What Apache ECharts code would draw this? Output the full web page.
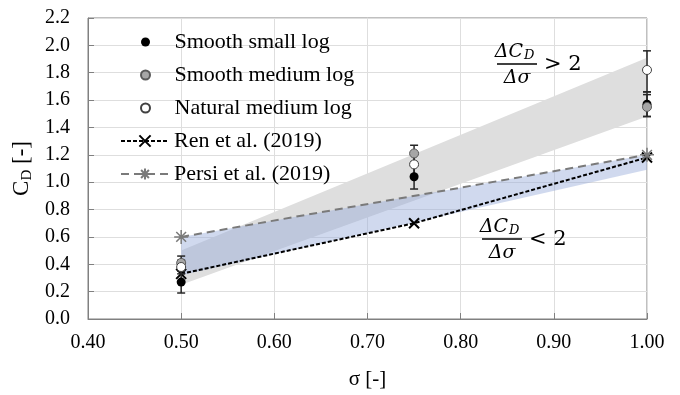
<!DOCTYPE html>
<html>
<head>
<meta charset="utf-8">
<title>CD vs sigma</title>
<script src="https://cdn.jsdelivr.net/npm/echarts@6/dist/echarts.min.js"></script>
</head>
<body style="margin:0">
<div id="main" style="width:680px;height:395px;"></div>
<script>
// measured points (sigma on x, drag coefficient on y)
var sigma = [0.50, 0.75, 1.00];
var smallLog = [0.27, 1.04, 1.57];
var smallLogLow = [0.19, 0.95, 1.48];
var smallLogHigh = [0.35, 1.12, 1.66];
var mediumLog = [0.41, 1.21, 1.55];
var mediumLogLow = [0.36, 1.15, 1.48];
var mediumLogHigh = [0.46, 1.27, 1.64];
var naturalLog = [0.38, 1.13, 1.82];
var naturalLogLow = [0.33, 1.05, 1.66];
var naturalLogHigh = [0.43, 1.21, 1.96];

// literature lines
var renX = [0.50, 0.75, 1.00];
var renY = [0.33, 0.70, 1.18];
var persiX = [0.50, 1.00];
var persiY = [0.60, 1.20];

// shaded bands (slope > 2 grey, slope < 2 blue)
var bandX = [0.50, 1.00];
var greyLow = [0.25, 1.48];
var greyHigh = [0.50, 1.91];
var blueLow = [0.32, 1.09];
var blueHigh = [0.60, 1.20];

var serif = 'Liberation Serif';
var mathFont = '"DejaVu Serif"';

function pts(xs, ys) {
    return xs.map(function (x, i) { return [x, ys[i]]; });
}

function bandSeries(low, high, color, z) {
    return {
        type: 'custom', silent: true, z: z,
        data: [[bandX[0], low[0]]],
        renderItem: function (params, api) {
            var p = [];
            for (var i = 0; i < bandX.length; i++) p.push(api.coord([bandX[i], low[i]]));
            for (var j = bandX.length - 1; j >= 0; j--) p.push(api.coord([bandX[j], high[j]]));
            return { type: 'polygon', shape: { points: p }, style: { fill: color } };
        }
    };
}

function errSeries(low, high) {
    return {
        type: 'custom', silent: true, z: 5,
        data: sigma.map(function (x, i) { return [x, low[i], high[i]]; }),
        renderItem: function (params, api) {
            var lo = api.coord([api.value(0), api.value(1)]);
            var hi = api.coord([api.value(0), api.value(2)]);
            var w = 4;
            var st = { stroke: '#262626', lineWidth: 1.5 };
            return {
                type: 'group', children: [
                    { type: 'line', shape: { x1: lo[0], y1: lo[1], x2: hi[0], y2: hi[1] }, style: st },
                    { type: 'line', shape: { x1: lo[0] - w, y1: lo[1], x2: lo[0] + w, y2: lo[1] }, style: st },
                    { type: 'line', shape: { x1: hi[0] - w, y1: hi[1], x2: hi[0] + w, y2: hi[1] }, style: st }
                ]
            };
        }
    };
}

// fraction label dC_D / dsigma  (cx = centre of the bar, cy = bar height)
function fraction(cx, cy, sign) {
    return [
        { type: 'text', x: cx + 6, y: cy - 12, z: 20, style: { text: 'ΔC', font: 'italic 19px ' + mathFont, fill: '#000', align: 'right', verticalAlign: 'middle' } },
        { type: 'text', x: cx + 7, y: cy - 8, z: 20, style: { text: 'D', font: 'italic 13px ' + mathFont, fill: '#000', align: 'left', verticalAlign: 'middle' } },
        { type: 'rect', z: 20, shape: { x: cx - 20, y: cy - 0.75, width: 40, height: 1.5 }, style: { fill: '#000' } },
        { type: 'text', x: cx, y: cy + 14, z: 20, style: { text: 'Δσ', font: 'italic 19px ' + mathFont, fill: '#000', align: 'center', verticalAlign: 'middle' } },
        { type: 'text', x: cx + 27, y: cy + 1, z: 20, style: { text: sign + ' 2', font: '21px ' + mathFont, fill: '#000', align: 'left', verticalAlign: 'middle' } }
    ];
}

var legendText = { fontFamily: serif, fontSize: 22, color: '#000', lineHeight: 22 };

var myChart = echarts.init(document.getElementById('main'));

var option = {
    animation: false,
    grid: { left: 88, right: 33, top: 18, bottom: 73, show: true, borderColor: '#808080', borderWidth: 1 },
    legend: [{
        orient: 'vertical', left: 140, top: 31, padding: 0, itemGap: 11,
        itemWidth: 48, itemHeight: 9, textStyle: legendText,
        data: ['Smooth small log', 'Smooth medium log', 'Natural medium log']
    }, {
        orient: 'vertical', left: 120, top: 130, padding: 0, itemGap: 11,
        itemWidth: 48, itemHeight: 14, textStyle: legendText,
        data: ['Ren et al. (2019)', 'Persi et al. (2019)']
    }],
    xAxis: {
        type: 'value', min: 0.4, max: 1.0, interval: 0.1,
        axisLine: { lineStyle: { color: '#808080' } },
        axisTick: { inside: true, length: 6, lineStyle: { color: '#808080' } },
        splitLine: { lineStyle: { color: '#dedede' } },
        axisLabel: { formatter: function (v) { return v.toFixed(2); }, fontFamily: serif, fontSize: 20, color: '#000', margin: 14 },
        name: 'σ [-]', nameLocation: 'middle', nameGap: 50,
        nameTextStyle: { fontFamily: serif, fontSize: 21, color: '#000' }
    },
    yAxis: {
        type: 'value', min: 0, max: 2.2, interval: 0.2,
        axisLine: { show: true, lineStyle: { color: '#808080' } },
        axisTick: { show: true, inside: true, length: 6, lineStyle: { color: '#808080' } },
        splitLine: { lineStyle: { color: '#dedede' } },
        axisLabel: { formatter: function (v) { return v.toFixed(1); }, fontFamily: serif, fontSize: 20, color: '#000', margin: 18 },
        name: '{c|C}{d|D}{c| [-]}', nameLocation: 'middle', nameGap: 48,
        nameTextStyle: {
            rich: {
                c: { fontFamily: serif, fontSize: 23, color: '#000' },
                d: { fontFamily: serif, fontSize: 15, color: '#000', padding: [9, 0, 0, 0] }
            }
        }
    },
    graphic: fraction(517, 64, '>').concat(fraction(502, 239, '<')),
    series: [
        bandSeries(greyLow, greyHigh, '#dedede', 1),
        bandSeries(blueLow, blueHigh, 'rgba(151,171,218,0.45)', 2),
        {
            name: 'Ren et al. (2019)', type: 'line', z: 4,
            data: pts(renX, renY),
            symbol: 'path://M0,0L10,10M10,0L0,10', symbolSize: 10,
            lineStyle: { color: '#000', width: 2, type: [4, 2] },
            itemStyle: { color: '#000', borderColor: '#000', borderWidth: 2 }
        },
        {
            name: 'Persi et al. (2019)', type: 'line', z: 4,
            data: pts(persiX, persiY),
            symbol: 'path://M5,0L5,10M0,5L10,5M1.5,1.5L8.5,8.5M8.5,1.5L1.5,8.5', symbolSize: 14,
            lineStyle: { color: '#7a7a7a', width: 2, type: [8, 5] },
            itemStyle: { color: '#7a7a7a', borderColor: '#7a7a7a', borderWidth: 1.5 }
        },
        errSeries(smallLogLow, smallLogHigh),
        errSeries(mediumLogLow, mediumLogHigh),
        errSeries(naturalLogLow, naturalLogHigh),
        {
            name: 'Smooth small log', type: 'scatter', z: 6, symbolSize: 9,
            data: pts(sigma, smallLog),
            itemStyle: { color: '#000', opacity: 1 }
        },
        {
            name: 'Smooth medium log', type: 'scatter', z: 6, symbolSize: 9,
            data: pts(sigma, mediumLog),
            itemStyle: { color: '#a6a6a6', borderColor: '#595959', borderWidth: 1, opacity: 1 }
        },
        {
            name: 'Natural medium log', type: 'scatter', z: 6, symbolSize: 9,
            data: pts(sigma, naturalLog),
            itemStyle: { color: '#fff', borderColor: '#404040', borderWidth: 1, opacity: 1 }
        }
    ]
};
myChart.setOption(option);
</script>
</body>
</html>
